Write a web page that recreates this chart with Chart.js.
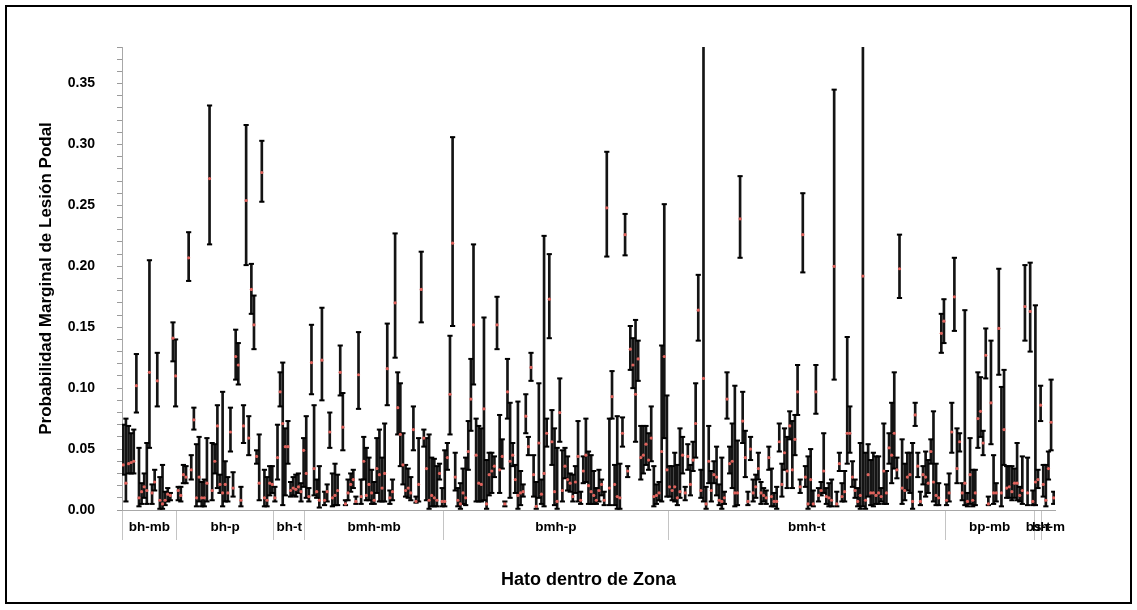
<!DOCTYPE html>
<html>
<head>
<meta charset="utf-8">
<script src="https://cdn.jsdelivr.net/npm/chart.js@4.4.1/dist/chart.umd.min.js"></script>
<style>
  html, body { margin: 0; background: #fff; }
  canvas { display: block; }
</style>
</head>
<body>
<canvas id="grafico" width="1137" height="610"></canvas>
<script>
// Zonas de vida (eje X agrupado)
const zonas = ["bh-mb", "bh-p", "bh-t", "bmh-mb", "bmh-p", "bmh-t", "bp-mb", "bs-t", "bh-m"];

// Cada hato: [límite inferior, estimado, límite superior]
const bh_mb = [
  [0.029,0.037,0.070],[0.007,0.022,0.075],[0.030,0.038,0.069],[0.030,0.039,0.063],[0.030,0.040,0.066],
  [0.080,0.102,0.128],[0.003,0.010,0.051],[0.005,0.015,0.022],[0.010,0.019,0.030],[0.005,0.016,0.055],
  [0.051,0.113,0.205],[0.005,0.014,0.021],[0.016,0.023,0.033],[0.085,0.106,0.129],[0.001,0.008,0.027],
  [0.001,0.005,0.037],[0.004,0.008,0.015],[0.007,0.013,0.018],[0.008,0.012,0.014],[0.122,0.141,0.154],
  [0.085,0.110,0.140]
];
const bh_p = [
  [0.008,0.016,0.019],[0.007,0.012,0.019],[0.022,0.029,0.037],[0.022,0.027,0.036],[0.188,0.207,0.228],
  [0.025,0.033,0.045],[0.066,0.074,0.084],[0.003,0.010,0.054],[0.007,0.027,0.060],[0.003,0.010,0.023],
  [0.003,0.010,0.025],[0.007,0.022,0.059],[0.218,0.272,0.332],[0.008,0.016,0.055],[0.030,0.040,0.054],
  [0.018,0.069,0.086],[0.014,0.021,0.029],[0.003,0.014,0.097],[0.007,0.021,0.040],[0.007,0.014,0.027],
  [0.048,0.064,0.084],[0.011,0.018,0.031],[0.107,0.126,0.148],[0.103,0.119,0.137],[0.003,0.008,0.019],
  [0.055,0.069,0.086],[0.201,0.254,0.316],[0.045,0.059,0.077],[0.161,0.181,0.202],[0.132,0.152,0.176],
  [0.038,0.044,0.049],[0.008,0.022,0.062],[0.253,0.277,0.303],[0.003,0.010,0.033],[0.003,0.008,0.027],
  [0.012,0.022,0.036],[0.014,0.021,0.036]
];
const bh_t = [
  [0.007,0.010,0.019],[0.025,0.043,0.070],[0.085,0.097,0.113],[0.004,0.071,0.121],[0.012,0.052,0.067],
  [0.038,0.052,0.073],[0.011,0.016,0.023],[0.012,0.018,0.027],[0.011,0.017,0.029],[0.014,0.019,0.030],
  [0.007,0.015,0.022],[0.019,0.049,0.059]
];
const bmh_mb = [
  [0.010,0.030,0.077],[0.007,0.011,0.018],[0.095,0.121,0.152],[0.012,0.034,0.086],[0.010,0.015,0.025],
  [0.002,0.008,0.036],[0.090,0.123,0.166],[0.004,0.008,0.015],[0.007,0.015,0.021],[0.051,0.064,0.080],
  [0.003,0.010,0.030],[0.004,0.012,0.038],[0.004,0.016,0.029],[0.094,0.113,0.135],[0.049,0.068,0.096],
  [0.004,0.005,0.008],[0.008,0.014,0.025],[0.015,0.021,0.030],[0.018,0.025,0.033],[0.005,0.007,0.011],
  [0.083,0.111,0.146],[0.005,0.011,0.025],[0.025,0.040,0.060],[0.008,0.012,0.051],[0.008,0.021,0.043],
  [0.005,0.014,0.033],[0.005,0.008,0.023],[0.014,0.034,0.059],[0.007,0.029,0.066],[0.007,0.018,0.043],
  [0.007,0.030,0.071],[0.086,0.116,0.153],[0.005,0.010,0.016],[0.008,0.015,0.025],[0.125,0.170,0.227],
  [0.062,0.084,0.113],[0.036,0.062,0.104],[0.021,0.037,0.063],[0.011,0.016,0.037],[0.010,0.018,0.034],
  [0.008,0.014,0.027],[0.049,0.066,0.085],[0.006,0.007,0.011],[0.007,0.021,0.059],[0.154,0.181,0.212],
  [0.052,0.059,0.066],[0.008,0.034,0.059],[0.001,0.008,0.062],[0.003,0.012,0.043],[0.003,0.010,0.042],
  [0.003,0.008,0.036],[0.025,0.030,0.038],[0.003,0.007,0.018]
];
const bmh_p = [
  [0.003,0.007,0.049],[0.033,0.043,0.055],[0.062,0.095,0.143],[0.151,0.219,0.306],[0.016,0.027,0.047],
  [0.003,0.008,0.018],[0.001,0.005,0.022],[0.005,0.014,0.034],[0.004,0.010,0.043],[0.033,0.048,0.073],
  [0.065,0.091,0.124],[0.103,0.152,0.218],[0.007,0.045,0.075],[0.007,0.022,0.069],[0.007,0.021,0.067],
  [0.008,0.083,0.158],[0.001,0.005,0.041],[0.012,0.029,0.047],[0.014,0.032,0.047],[0.027,0.036,0.044],
  [0.132,0.152,0.175],[0.014,0.033,0.078],[0.034,0.044,0.058],[0.003,0.005,0.007],[0.075,0.097,0.124],
  [0.010,0.040,0.088],[0.036,0.045,0.055],[0.014,0.025,0.037],[0.001,0.012,0.089],[0.004,0.014,0.032],
  [0.011,0.015,0.021],[0.063,0.077,0.095],[0.045,0.052,0.060],[0.106,0.117,0.129],[0.011,0.029,0.045],
  [0.001,0.003,0.023],[0.010,0.055,0.104],[0.005,0.013,0.025],[0.003,0.030,0.225],[0.052,0.063,0.075],
  [0.141,0.173,0.210],[0.037,0.056,0.082],[0.004,0.015,0.067],[0.001,0.007,0.051],[0.056,0.080,0.108],
  [0.007,0.016,0.049],[0.026,0.036,0.051],[0.016,0.025,0.044],[0.015,0.022,0.030],[0.007,0.011,0.029],
  [0.014,0.023,0.036],[0.007,0.044,0.073],[0.005,0.008,0.015],[0.022,0.032,0.044],[0.023,0.045,0.075],
  [0.005,0.020,0.048],[0.005,0.015,0.045],[0.005,0.012,0.032],[0.005,0.008,0.018],[0.007,0.016,0.033],
  [0.012,0.021,0.025],[0.004,0.008,0.015],[0.208,0.248,0.294],[0.004,0.018,0.075],[0.075,0.093,0.114],
  [0.004,0.021,0.037],[0.001,0.011,0.077],[0.001,0.010,0.038],[0.052,0.063,0.076],[0.209,0.226,0.243],
  [0.027,0.032,0.036],[0.115,0.132,0.151],[0.100,0.119,0.141],[0.056,0.095,0.156],[0.106,0.124,0.139],
  [0.025,0.043,0.069],[0.030,0.045,0.069],[0.037,0.054,0.069],[0.033,0.041,0.063],[0.040,0.059,0.085],
  [0.003,0.011,0.036],[0.005,0.012,0.021],[0.008,0.014,0.023],[0.007,0.048,0.135],[0.059,0.126,0.251],
  [0.011,0.033,0.094]
];
const bmh_t = [
  [0.011,0.019,0.036],[0.008,0.016,0.036],[0.007,0.019,0.047],[0.004,0.010,0.037],[0.010,0.015,0.067],
  [0.030,0.045,0.060],[0.008,0.014,0.019],[0.033,0.044,0.054],[0.012,0.021,0.037],[0.032,0.041,0.056],
  [0.043,0.071,0.104],[0.139,0.164,0.193],[0.010,0.016,0.033],[0.007,0.108,0.400],[0.001,0.005,0.019],
  [0.022,0.040,0.069],[0.007,0.016,0.032],[0.022,0.029,0.040],[0.012,0.027,0.052],[0.004,0.008,0.021],
  [0.001,0.007,0.043],[0.005,0.010,0.015],[0.075,0.091,0.113],[0.030,0.038,0.052],[0.018,0.040,0.071],
  [0.003,0.014,0.102],[0.004,0.014,0.057],[0.207,0.239,0.274],[0.055,0.073,0.097],[0.027,0.043,0.065],
  [0.004,0.007,0.015],[0.041,0.050,0.060],[0.007,0.014,0.025],[0.010,0.019,0.029],[0.025,0.034,0.047],
  [0.005,0.014,0.023],[0.007,0.012,0.018],[0.005,0.010,0.016],[0.033,0.043,0.052],[0.003,0.011,0.034],
  [0.003,0.007,0.014],[0.001,0.007,0.019],[0.048,0.056,0.071],[0.011,0.021,0.038],[0.033,0.047,0.067],
  [0.018,0.032,0.060],[0.058,0.069,0.081],[0.018,0.033,0.073],[0.045,0.058,0.078],[0.078,0.097,0.119],
  [0.014,0.019,0.025],[0.195,0.226,0.260],[0.019,0.027,0.036],[0.001,0.005,0.044],[0.004,0.025,0.050],
  [0.003,0.005,0.016],[0.079,0.097,0.119],[0.007,0.012,0.018],[0.012,0.016,0.023],[0.014,0.032,0.063],
  [0.005,0.011,0.018],[0.003,0.010,0.022],[0.003,0.008,0.025],[0.107,0.200,0.345],[0.003,0.005,0.015],
  [0.032,0.038,0.047],[0.007,0.011,0.022],[0.007,0.015,0.032],[0.038,0.063,0.142],[0.047,0.063,0.085],
  [0.019,0.027,0.040],[0.010,0.016,0.025],[0.003,0.007,0.018],[0.001,0.012,0.055],[0.003,0.192,0.400],
  [0.001,0.008,0.047],[0.011,0.029,0.054],[0.004,0.014,0.041],[0.003,0.014,0.047],[0.005,0.012,0.044],
  [0.005,0.014,0.044],[0.007,0.011,0.018],[0.005,0.032,0.071],[0.005,0.014,0.032],[0.038,0.051,0.063],
  [0.022,0.045,0.088],[0.034,0.063,0.113],[0.026,0.033,0.043],[0.174,0.198,0.226],[0.005,0.018,0.058],
  [0.008,0.016,0.038],[0.016,0.027,0.047],[0.014,0.029,0.047],[0.001,0.007,0.055],[0.069,0.078,0.088],
  [0.027,0.036,0.047],[0.004,0.007,0.015],[0.021,0.029,0.036],[0.011,0.027,0.048],[0.014,0.022,0.041],
  [0.038,0.048,0.058],[0.007,0.023,0.081],[0.004,0.012,0.038],[0.004,0.010,0.022],[0.129,0.145,0.161],
  [0.137,0.155,0.173]
];
const bp_mb = [
  [0.004,0.008,0.021],[0.007,0.014,0.030],[0.047,0.064,0.088],[0.147,0.175,0.207],[0.022,0.034,0.067],
  [0.048,0.056,0.063],[0.008,0.014,0.022],[0.004,0.022,0.164],[0.003,0.007,0.014],[0.005,0.029,0.059],
  [0.003,0.008,0.033],[0.004,0.014,0.033],[0.051,0.075,0.113],[0.060,0.081,0.109],[0.045,0.055,0.065],
  [0.108,0.127,0.149],[0.004,0.005,0.011],[0.054,0.088,0.139],[0.005,0.014,0.045],[0.007,0.014,0.022],
  [0.111,0.149,0.198],[0.003,0.014,0.101],[0.037,0.066,0.115],[0.010,0.018,0.036],[0.010,0.019,0.036],
  [0.008,0.015,0.036],[0.010,0.022,0.034],[0.008,0.022,0.055],[0.007,0.012,0.019],[0.005,0.016,0.044],
  [0.139,0.167,0.201],[0.004,0.014,0.043],[0.130,0.163,0.203],[0.004,0.007,0.016]
];
const bs_t = [
  [0.004,0.023,0.168],[0.018,0.025,0.033],[0.073,0.086,0.102]
];
const bh_m = [
  [0.011,0.021,0.037],[0.003,0.008,0.037],[0.025,0.034,0.048],[0.049,0.072,0.107],[0.005,0.010,0.015]
];
const hatosPorZona = [bh_mb, bh_p, bh_t, bmh_mb, bmh_p, bmh_t, bp_mb, bs_t, bh_m];

const yMax = 0.38;
const yPaso = 0.01;

// Armar puntos a partir de los grupos
const hatos = [];
hatosPorZona.forEach(g => g.forEach(h => hatos.push(h)));
const N = hatos.length;

const limites = [];
const centros = new Map();
let acumulado = 0;
hatosPorZona.forEach((g, z) => {
  limites.push(acumulado - 0.5);
  centros.set(acumulado + (g.length - 1) / 2, zonas[z]);
  acumulado += g.length;
});
const limitesSet = new Set(limites);
const ticksX = limites.concat([...centros.keys()]).sort((a, b) => a - b);

const intervalos = hatos.map((h, i) => ({ x: i, y: [h[0], h[2]] }));
const inferiores = hatos.map((h, i) => ({ x: i, y: h[0] }));
const superiores = hatos.map((h, i) => ({ x: i, y: h[2] }));
const estimados = hatos.map((h, i) => ({ x: i, y: h[1] }));

const fuente = 'Arial, "Liberation Sans", sans-serif';

const marco = {
  id: "marco",
  afterDraw(chart) {
    const ctx = chart.ctx;
    ctx.save();
    ctx.strokeStyle = "#000";
    ctx.lineWidth = 2;
    ctx.strokeRect(6, 6, 1125, 597);
    ctx.restore();
  }
};

const tapa = {
  type: "scatter",
  pointStyle: "line",
  pointRadius: 2.6,
  pointHoverRadius: 2.6,
  pointBorderWidth: 2,
  pointBorderColor: "#000",
  borderColor: "#000",
  showLine: false
};

new Chart(document.getElementById("grafico"), {
  type: "bar",
  data: {
    datasets: [
      {
        type: "scatter",
        data: estimados,
        pointRadius: 1.6,
        pointHoverRadius: 1.6,
        pointBorderWidth: 0,
        backgroundColor: "#e0625c",
        order: 0
      },
      Object.assign({ data: inferiores, order: 1 }, tapa),
      Object.assign({ data: superiores, order: 1 }, tapa),
      {
        type: "bar",
        data: intervalos,
        barThickness: 2,
        backgroundColor: "#141414",
        borderWidth: 0,
        grouped: false,
        order: 2
      }
    ]
  },
  options: {
    responsive: false,
    animation: false,
    events: [],
    layout: { padding: { left: 20, top: 47, right: 82, bottom: 0 } },
    plugins: { legend: { display: false }, tooltip: { enabled: false } },
    scales: {
      x: {
        type: "linear",
        offset: false,
        min: -0.5,
        max: N - 0.5,
        afterBuildTicks: s => { s.ticks = ticksX.map(v => ({ value: v })); },
        afterFit: s => { s.height = 100; s.paddingLeft = 0; s.paddingRight = 0; },
        border: { color: "#a8a8a8", width: 1 },
        grid: {
          offset: false,
          drawOnChartArea: false,
          tickLength: 30,
          color: c => (c.tick && limitesSet.has(c.tick.value)) ? "#c4c4c4" : "rgba(0,0,0,0)"
        },
        ticks: {
          autoSkip: false,
          maxRotation: 0,
          padding: -21,
          color: "#000",
          font: { family: fuente, size: 13.5, weight: "bold" },
          callback: v => centros.has(v) ? centros.get(v) : ""
        },
        title: {
          display: true,
          text: "Hato dentro de Zona",
          color: "#000",
          font: { family: fuente, size: 18, weight: "bold" },
          padding: { top: 0, bottom: 19 }
        }
      },
      y: {
        min: 0,
        max: yMax,
        afterFit: s => { s.width = 102; s.paddingTop = 0; s.paddingBottom = 0; },
        border: { color: "#a8a8a8", width: 1 },
        grid: { drawOnChartArea: false, tickLength: 5, color: "#9a9a9a" },
        ticks: {
          stepSize: yPaso,
          autoSkip: false,
          padding: 22,
          color: "#000",
          font: { family: fuente, size: 14, weight: "bold" },
          callback: v => Math.abs(v * 20 - Math.round(v * 20)) < 1e-6 ? v.toFixed(2) : ""
        },
        title: {
          display: true,
          text: "Probabilidad Marginal de Lesión Podal",
          color: "#000",
          font: { family: fuente, size: 17, weight: "bold" },
          padding: { top: 16, bottom: 0 }
        }
      }
    }
  },
  plugins: [marco]
});
</script>
</body>
</html>
